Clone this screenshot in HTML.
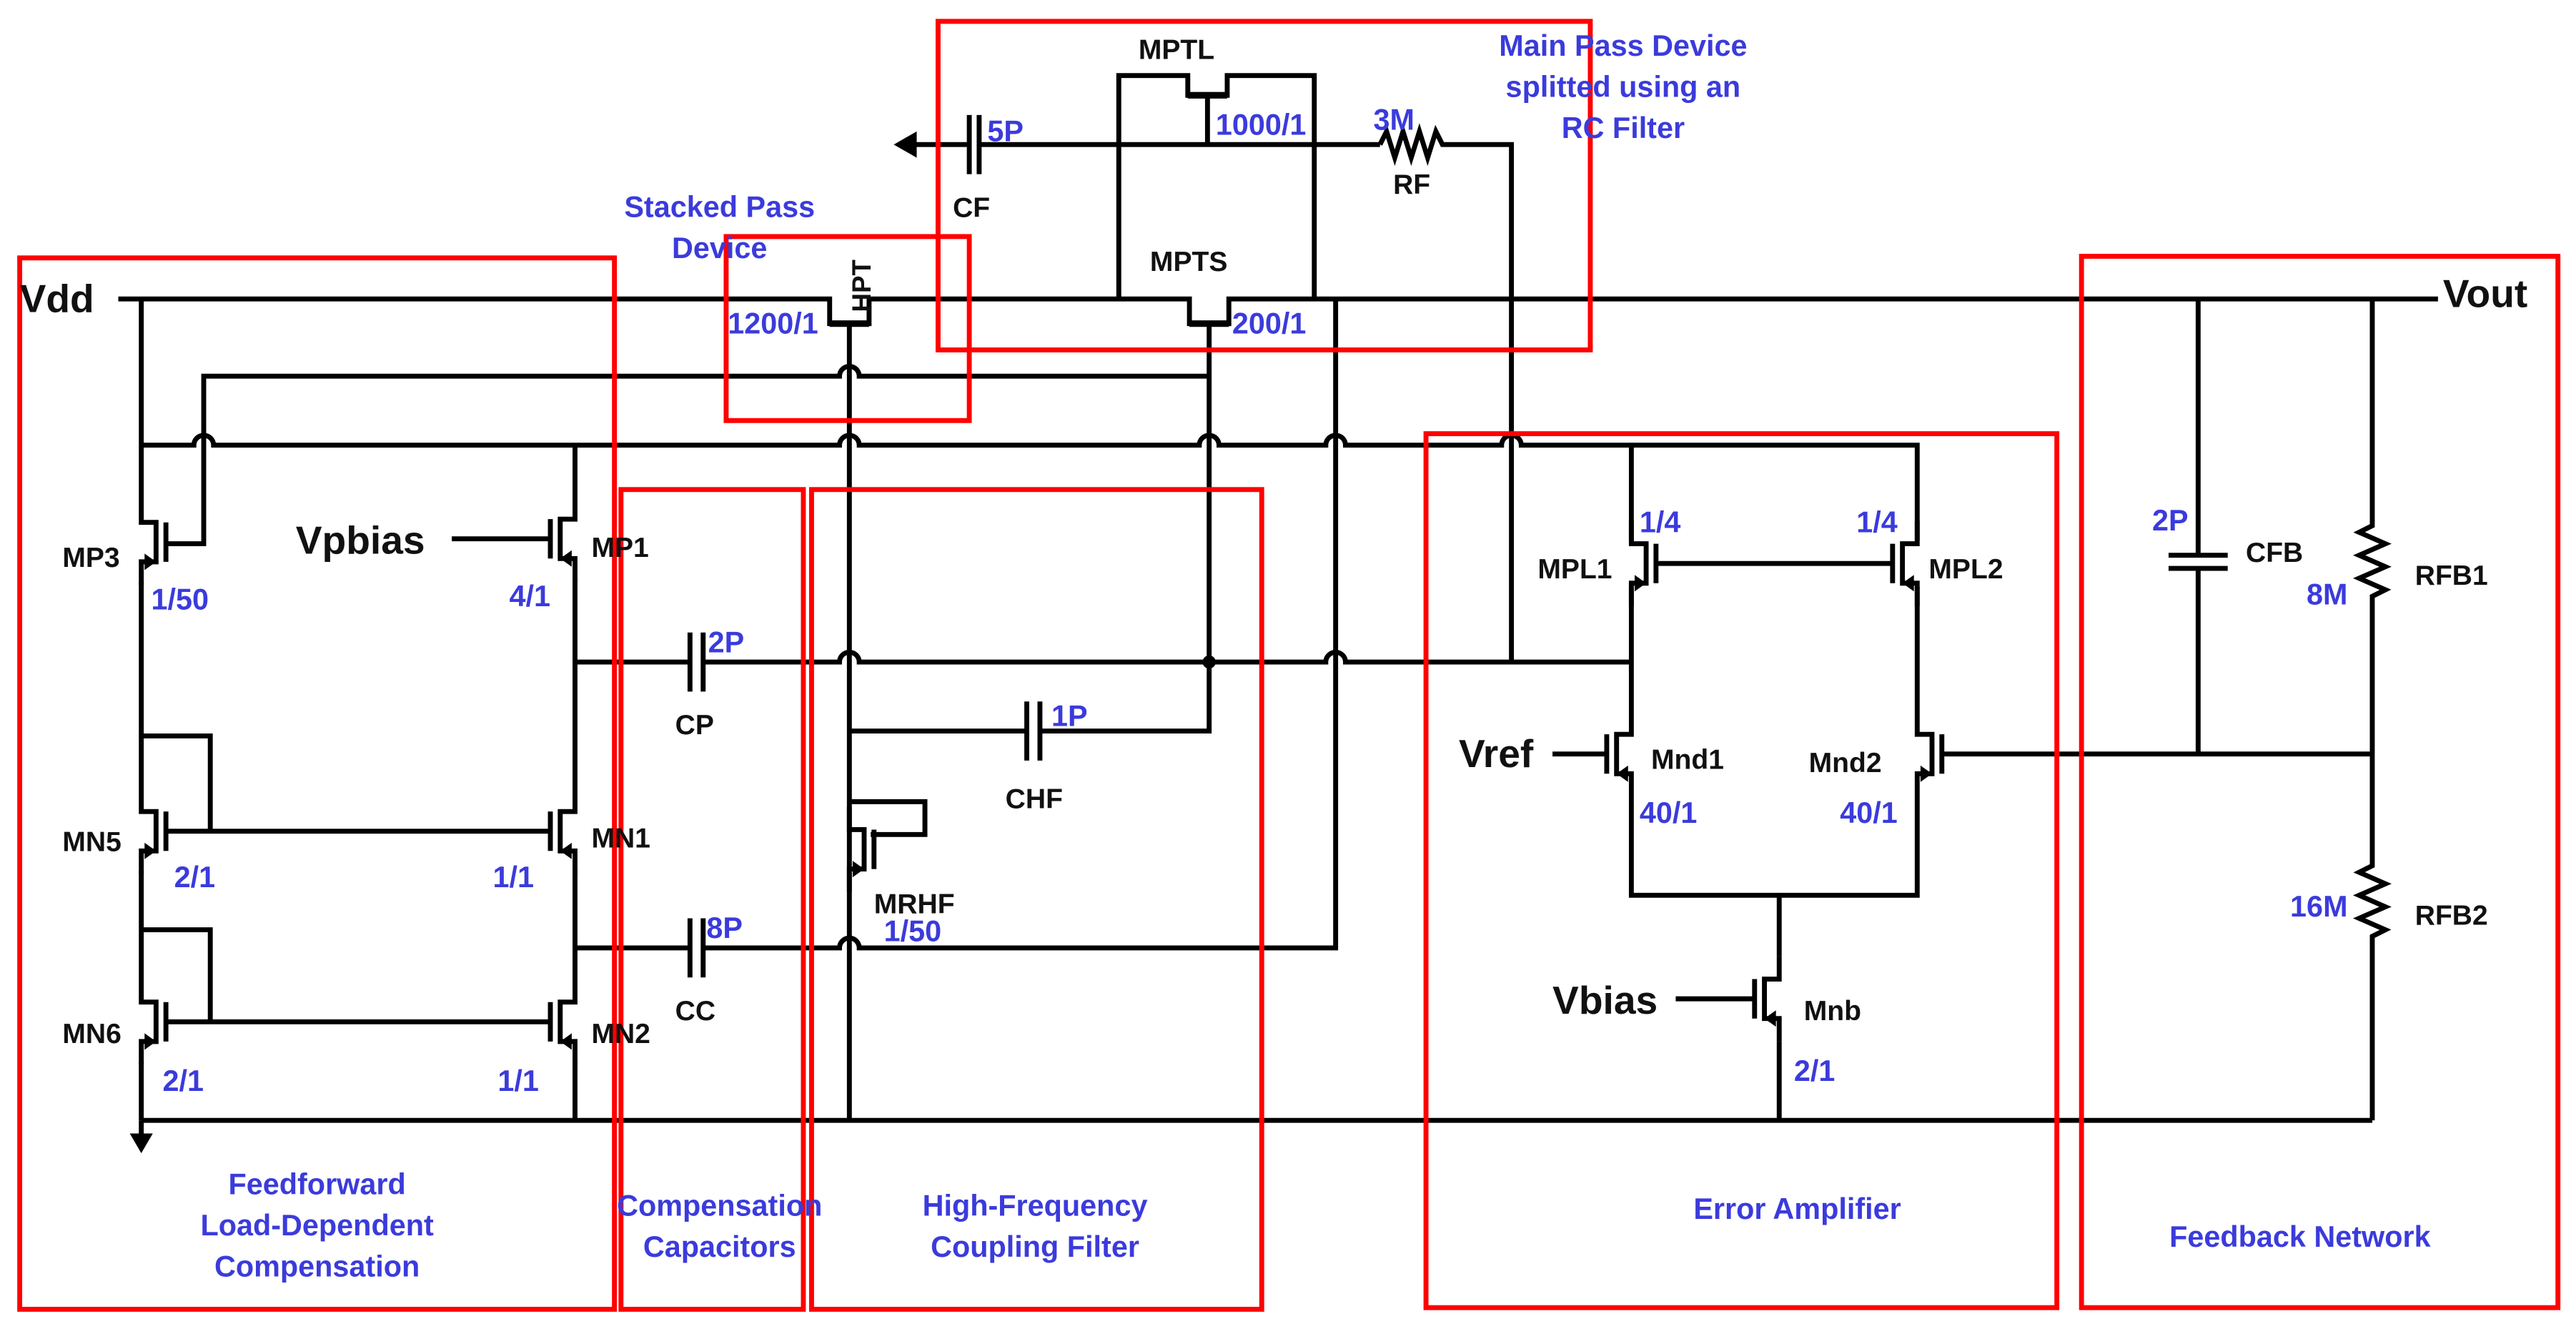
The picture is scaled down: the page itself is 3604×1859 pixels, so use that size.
<!DOCTYPE html>
<html><head><meta charset="utf-8"><style>
html,body{margin:0;padding:0;background:#fff;}
svg{display:block}
text{font-family:"Liberation Sans",Arial,sans-serif;font-weight:bold}
.b{fill:#3b3bdc}
.k{fill:#111}
</style></head><body>
<svg width="3604" height="1859" viewBox="0 0 1568 809" preserveAspectRatio="none" xmlns="http://www.w3.org/2000/svg">
<defs>
<g id="tl"><path d="M0,-26V-12H-9V12H0V26M-15,-12V12" fill="none" stroke="#000" stroke-width="3"/><path d="M-9,12l7,-5v10z" fill="#000"/></g>
</defs>
<g fill="none" stroke="#000" stroke-width="3">
<path d="M72,182H505V197H529V182H724V197H748V182H1484"/>
<path d="M517,197V682"/>
<path d="M736,197V445H633"/>
<path d="M625,445H517"/>
<path d="M681,182V46H723V58H747V46H800V182"/>
<path d="M735,58V88"/>
<path d="M556,88H590M596,88H840"/>
<path d="M840,88l4,-8l5,16l5,-16l5,16l5,-16l5,16l5,-16l4,8H920V403"/>
<path d="M86,182V304M86,354V480M86,530V596M86,646V682"/>
<path d="M86,448H128V506M86,566H128V622"/>
<path d="M101,506H335M101,622H335"/>
<path d="M101,331H124V229H511a6,6 0 0 1 12,0H736"/>
<path d="M86,271H118a6,6 0 0 1 12,0H511a6,6 0 0 1 12,0H730a6,6 0 0 1 12,0H807a6,6 0 0 1 12,0H914a6,6 0 0 1 12,0H1167V329"/>
<path d="M993,271V329"/>
<path d="M350,271V302M350,352V480M350,530V596M350,646V682"/>
<path d="M275,328H335"/>
<path d="M350,403H420M428,403H511a6,6 0 0 1 12,0H807a6,6 0 0 1 12,0H993"/>
<path d="M350,577H420M428,577H511a6,6 0 0 1 12,0H813V182"/>
<path d="M86,682H1444"/>
<path d="M86,682V692"/>
<path d="M517,488H563V508H530"/>
<path d="M993,357V433M993,485V545H1167V485M1167,433V357"/>
<path d="M1008,343H1152"/>
<path d="M945,459H978"/>
<path d="M1182,459H1444"/>
<path d="M1083,545V582M1083,634V682M1020,608H1068"/>
<path d="M1444,182V320l-8,4l16,7l-16,7l16,7l-16,7l16,7l-8,4V527l-8,4l16,7l-16,7l16,7l-16,7l16,7l-8,4V682"/>
<path d="M1338,182V338M1338,346V459"/>
</g>
<g stroke="#000" stroke-width="3">
<path d="M590,70V106M596,70V106M420,385V421M428,385V421M420,559V595M428,559V595M625,427V463M633,427V463M1320,338H1356M1320,346H1356"/>
</g>
<path d="M544,88l14,-8v16z" fill="#000"/>
<path d="M79,690h14l-7,12z" fill="#000"/>
<circle cx="736" cy="403" r="4" fill="#000"/>
<use href="#tl" transform="translate(350,328)"/>
<use href="#tl" transform="translate(86,330) scale(-1,1)"/>
<use href="#tl" transform="translate(86,506) scale(-1,1)"/>
<use href="#tl" transform="translate(86,622) scale(-1,1)"/>
<use href="#tl" transform="translate(350,506)"/>
<use href="#tl" transform="translate(350,622)"/>
<use href="#tl" transform="translate(993,343) scale(-1,1)"/>
<use href="#tl" transform="translate(1167,343)"/>
<use href="#tl" transform="translate(993,459)"/>
<use href="#tl" transform="translate(1167,459) scale(-1,1)"/>
<use href="#tl" transform="translate(1083,608)"/>
<use href="#tl" transform="translate(517,517) scale(-1,1)"/>
<g stroke="#000" stroke-width="4"><path d="M505,197H529M724,197H748M723,58H747"/></g>
<g fill="none" stroke="#f00" stroke-width="3">
<rect x="12" y="157" width="362" height="640"/>
<rect x="442" y="144" width="148" height="112"/>
<rect x="571" y="13" width="397" height="200"/>
<rect x="378" y="298" width="111" height="499"/>
<rect x="494" y="298" width="274" height="499"/>
<rect x="868" y="264" width="384" height="532"/>
<rect x="1267" y="156" width="290" height="640"/>
</g>
<g class="k">
<text x="12" y="190" font-size="24">Vdd</text>
<text x="1487" y="187" font-size="24">Vout</text>
<text x="180" y="337" font-size="24">Vpbias</text>
<text x="888" y="467" font-size="24">Vref</text>
<text x="945" y="617" font-size="24">Vbias</text>
<g font-size="17">
<text x="38" y="345">MP3</text>
<text x="360" y="339">MP1</text>
<text x="38" y="518">MN5</text>
<text x="360" y="516">MN1</text>
<text x="38" y="635">MN6</text>
<text x="360" y="635">MN2</text>
<text x="411" y="447">CP</text>
<text x="411" y="621">CC</text>
<text x="612" y="492">CHF</text>
<text x="532" y="556">MRHF</text>
<text x="693" y="36">MPTL</text>
<text x="700" y="165">MPTS</text>
<text x="580" y="132">CF</text>
<text x="848" y="118">RF</text>
<text x="936" y="352">MPL1</text>
<text x="1174" y="352">MPL2</text>
<text x="1005" y="468">Mnd1</text>
<text x="1101" y="470">Mnd2</text>
<text x="1098" y="621">Mnb</text>
<text x="1367" y="342">CFB</text>
<text x="1470" y="356">RFB1</text>
<text x="1470" y="563">RFB2</text>
<text x="0" y="0" transform="translate(530,190) rotate(-90)" font-size="16">HPT</text>
</g></g>
<g class="b" font-size="18">
<text x="92" y="371">1/50</text>
<text x="310" y="369">4/1</text>
<text x="106" y="540">2/1</text>
<text x="300" y="540">1/1</text>
<text x="99" y="664">2/1</text>
<text x="303" y="664">1/1</text>
<text x="431" y="397">2P</text>
<text x="430" y="571">8P</text>
<text x="640" y="442">1P</text>
<text x="538" y="573">1/50</text>
<text x="601" y="86">5P</text>
<text x="740" y="82">1000/1</text>
<text x="836" y="79">3M</text>
<text x="443" y="203">1200/1</text>
<text x="750" y="203">200/1</text>
<text x="998" y="324">1/4</text>
<text x="1130" y="324">1/4</text>
<text x="998" y="501">40/1</text>
<text x="1120" y="501">40/1</text>
<text x="1092" y="658">2/1</text>
<text x="1310" y="323">2P</text>
<text x="1404" y="368">8M</text>
<text x="1394" y="558">16M</text>
<g text-anchor="middle">
<text x="438" y="132">Stacked Pass</text>
<text x="438" y="157">Device</text>
<text x="988" y="34">Main Pass Device</text>
<text x="988" y="59">splitted using an</text>
<text x="988" y="84">RC Filter</text>
<text x="193" y="727">Feedforward</text>
<text x="193" y="752">Load-Dependent</text>
<text x="193" y="777">Compensation</text>
<text x="438" y="740">Compensation</text>
<text x="438" y="765">Capacitors</text>
<text x="630" y="740">High-Frequency</text>
<text x="630" y="765">Coupling Filter</text>
<text x="1094" y="742">Error Amplifier</text>
<text x="1400" y="759">Feedback Network</text>
</g></g>
</svg>
</body></html>
